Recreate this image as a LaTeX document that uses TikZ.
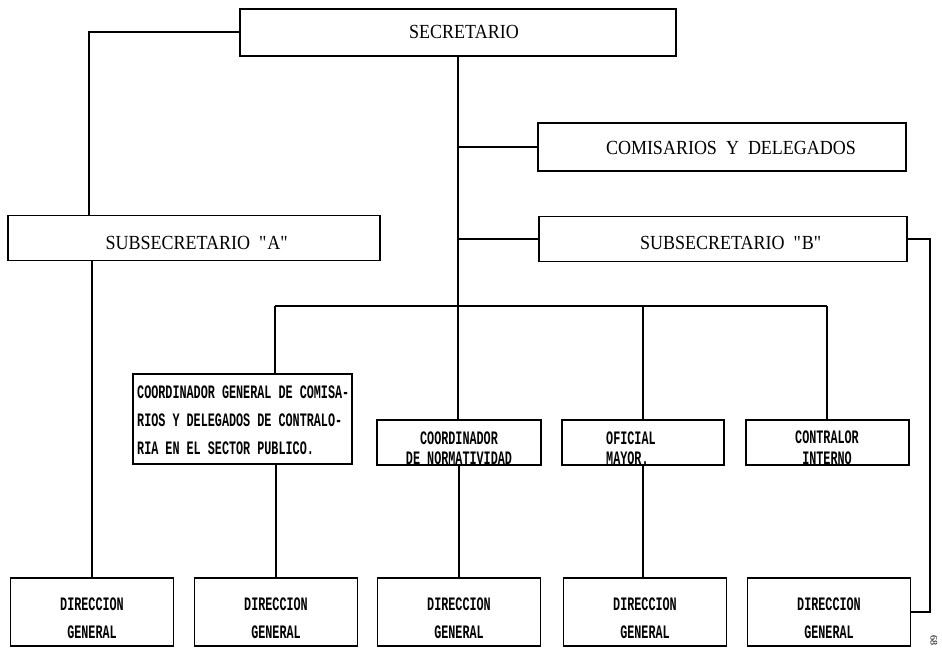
\documentclass[tikz,border=0pt]{standalone}
\usepackage{fontspec}
\setmainfont{Liberation Serif}
\newfontfamily\headfont[FakeStretch=0.9]{Liberation Serif}
\newfontfamily\typefont[FakeStretch=0.62]{Liberation Mono}
\usetikzlibrary{calc}

\tikzset{
  box/.style={draw, rectangle, line width=1.6pt, inner sep=0pt},
  wire/.style={line width=1.7pt},
  headtext/.style={font=\headfont\fontsize{20}{22}\selectfont, inner sep=0pt},
  typetext/.style={font=\typefont\bfseries\fontsize{19}{28}\selectfont, inner sep=0pt}
}

\begin{document}
\begin{tikzpicture}[x=1pt, y=-1pt]
  \useasboundingbox (0,0) rectangle (942,648);
  \fill[white] (0,0) rectangle (942,648);

  % upper level
  \node[box, minimum width=436, minimum height=47] (sec) at (458,32.5) {};
  \node[headtext] (secT) at (464,32) {SECRETARIO};
  \node[box, minimum width=368, minimum height=48] (com) at (722,147) {};
  \node[headtext] (comT) at (731,148) {COMISARIOS \ Y \ DELEGADOS};
  \node[box, minimum width=372, minimum height=45] (subA) at (194,238) {};
  \node[headtext] (subAT) at (197,243) {SUBSECRETARIO \ \textquotedbl A\textquotedbl};
  \node[box, minimum width=368, minimum height=45] (subB) at (723,239) {};
  \node[headtext] (subBT) at (731,243) {SUBSECRETARIO \ \textquotedbl B\textquotedbl};

  % middle level
  \node[box, minimum width=219, minimum height=90] (coordG) at (242.5,419) {};
  \node[typetext, align=left, anchor=west] (coordGT) at (137,420)
    {COORDINADOR GENERAL DE COMISA-\\RIOS Y DELEGADOS DE CONTRALO-\\RIA EN EL SECTOR PUBLICO.};
  \node[box, minimum width=164, minimum height=45] (coordN) at (459,442.5) {};
  \node[typetext] (coordNa) at (459,438) {COORDINADOR};
  \node[typetext] (coordNb) at (459,458) {DE NORMATIVIDAD};
  \node[box, minimum width=162, minimum height=45] (ofi) at (643,442.5) {};
  \node[typetext, anchor=west] (ofiA) at (606,438) {OFICIAL};
  \node[typetext, anchor=west] (ofiB) at (606,458) {MAYOR.};
  \node[box, minimum width=163, minimum height=45] (contr) at (827.5,442.5) {};
  \node[typetext] (contrA) at (827,437) {CONTRALOR};
  \node[typetext] (contrB) at (827,458) {INTERNO};

  % lower level
  \foreach \n/\x in {dir1/92, dir2/276, dir3/459, dir4/645, dir5/829} {
    \node[box, minimum width=163, minimum height=68] (\n) at (\x,612) {};
    \node[typetext] (\n a) at (\x,604) {DIRECCION};
    \node[typetext] (\n b) at (\x,632) {GENERAL};
  }

  % page number
  \node[font=\fontsize{10}{12}\selectfont, rotate=-90] (page) at (934,640) {68};

  % connectors
  \coordinate (leftRail) at (89,0);
  \coordinate (busL) at (275,306);
  \coordinate (busR) at (827,306);
  \coordinate (busO) at (643,306);
  \draw[wire] (sec.west |- secT) -| (leftRail |- subA.north);
  \draw[wire] (subA.south -| dir1.north) -- (dir1.north);
  \draw[wire] (sec.south) -- (sec.south |- coordN.north);
  \draw[wire] (sec.south |- com.west) -- (com.west);
  \draw[wire] (sec.south |- subB.west) -- (subB.west);
  \draw[wire] (busL) -- (busR);
  \draw[wire] (busL) -- (busL |- coordG.north);
  \draw[wire] (busO) -- (busO |- ofi.north);
  \draw[wire] (busR) -- (busR |- contr.north);
  \draw[wire] (coordG.south -| dir2.north) -- (dir2.north);
  \draw[wire] (coordN.south) -- (coordN.south |- dir3.north);
  \draw[wire] (ofi.south) -- (ofi.south |- dir4.north);
  \draw[wire] (subB.east) -- ++(22,0) |- (dir5.east);
\end{tikzpicture}
\end{document}
